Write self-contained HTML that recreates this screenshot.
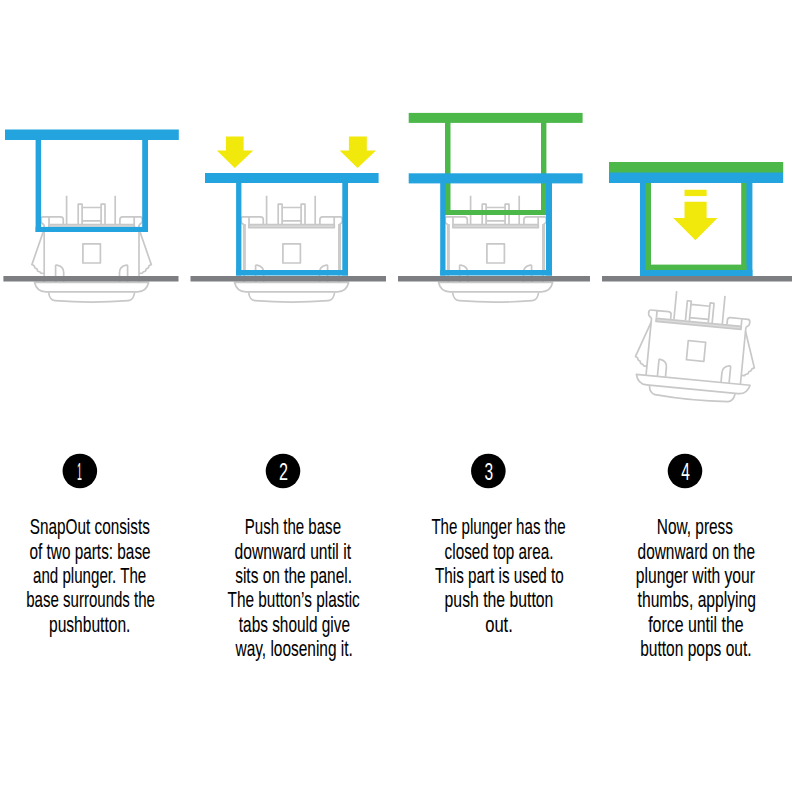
<!DOCTYPE html>
<html><head><meta charset="utf-8">
<style>
html,body{margin:0;padding:0;background:#fff;width:800px;height:800px;overflow:hidden}
svg{position:absolute;left:0;top:0;display:block}
text{font-family:"Liberation Sans",sans-serif}
</style></head>
<body>
<svg width="800" height="800" viewBox="0 0 800 800">
<defs>
<g id="core" fill="none" stroke="#c8c8c8" stroke-width="1.7" stroke-linejoin="round">
  <path d="M66.6,195.7V224M115.2,195.7V224"/>
  <path d="M78.2,224V204.2H82.1V224M82.1,207.5H101.1M82.1,220.8H101.1M101.1,224V204.2H105V224"/>
  <path d="M49,224V216.9H60.5Q63.3,216.9 63.3,219.7V224"/>
  <path d="M49,216.9H43Q40.9,216.9 40.9,219V221Q40.9,222.5 42.3,223.5L44.2,225"/>
  <path d="M134.2,224V216.9H122.7Q119.9,216.9 119.9,219.7V224"/>
  <path d="M134.2,216.9H140.2Q142.3,216.9 142.3,219V221Q142.3,222.5 140.9,223.5L139,225"/>
  <rect x="48.9" y="224.6" width="85.4" height="3.1" fill="#dcdcdc"/>
  <path d="M44.2,225V282M139,225V282"/>
  <rect x="82.9" y="243.8" width="17.5" height="19.2"/>
  <path d="M55.6,282V266Q55.6,264.9 56.9,265.1C61,265.8 63.7,268.5 63.7,272.5V282"/>
  <path d="M127.6,282V266Q127.6,264.9 126.3,265.1C122.2,265.8 119.5,268.5 119.5,272.5V282"/>
  <path d="M34.5,282.3H148.7C147.5,287.5 144.5,291.8 137.5,291.8H45.7C38.7,291.8 35.7,287.5 34.5,282.3Z"/>
  <path d="M48.6,292.5C49.3,297.5 50.8,300.3 55,300.7Q91.6,303.6 128.2,300.7C132.4,300.3 133.9,297.5 134.6,292.5"/>
</g>
<g id="wopen" fill="none" stroke="#c8c8c8" stroke-width="1.7" stroke-linejoin="round">
  <path d="M44.2,229L31.9,264.6L34.2,265.8L34.8,267.8L37,269L37.6,271L40,272L41,273.2L44.2,273.4"/>
  <path d="M139,229L151.3,264.6L149,265.8L148.4,267.8L146.2,269L145.6,271L143.2,272L142.2,273.2L139,273.4"/>
</g>
<g id="wfold" fill="none" stroke="#cbcbcb" stroke-width="3">
  <path d="M44.4,224V270M139.5,224V270"/>
</g>
</defs>

<!-- buttons -->
<use href="#core"/><use href="#wopen"/>
<g transform="translate(200,0)"><use href="#core"/><use href="#wfold"/></g>
<g transform="translate(404,0)"><use href="#core"/><use href="#wfold"/></g>
<g transform="translate(696,351) rotate(5.5) translate(-91.6,-253.4)"><use href="#core"/><use href="#wopen"/></g>

<!-- panel 1 blue -->
<g fill="#23a4de">
  <rect x="5" y="129.5" width="173.8" height="10.5"/>
  <rect x="35.6" y="139" width="5.5" height="93"/>
  <rect x="142.2" y="139" width="5.8" height="93"/>
  <rect x="35.6" y="226.9" width="112.4" height="5.1"/>
</g>
<!-- panel 2 -->
<g fill="#23a4de">
  <rect x="205" y="173" width="173.6" height="10"/>
  <rect x="236.1" y="182" width="5.3" height="93.5"/>
  <rect x="342.3" y="182" width="5.7" height="93.5"/>
  <rect x="236.1" y="270" width="111.9" height="5.5"/>
</g>
<g fill="#f1e80c">
  <path d="M226,136.6H243.6V150.6H253.2L234.8,168L216.9,150.6H226Z"/>
  <path d="M348.9,136.6H366.8V150.6H376L357.6,168L339.7,150.6H348.9Z"/>
</g>
<!-- panel 3 -->
<g fill="#4cb84a">
  <rect x="408.7" y="112.9" width="173.9" height="10"/>
  <rect x="445" y="122" width="5.5" height="93"/>
  <rect x="541" y="122" width="5.4" height="93"/>
  <rect x="445" y="210" width="101.4" height="5"/>
</g>
<g fill="#23a4de">
  <rect x="408.7" y="173.3" width="173.9" height="10.1"/>
  <rect x="440.2" y="183" width="5.3" height="92.5"/>
  <rect x="546" y="183" width="6" height="92.5"/>
  <rect x="440.2" y="270" width="111.8" height="5.5"/>
</g>
<!-- panel 4 -->
<g fill="#23a4de">
  <rect x="609" y="172" width="174.2" height="11"/>
  <rect x="640" y="182" width="6" height="94"/>
  <rect x="746" y="182" width="6.4" height="94"/>
  <rect x="640" y="269.8" width="112.4" height="6.2"/>
</g>
<g fill="#4cb84a">
  <rect x="609" y="162" width="174.2" height="10.5"/>
  <rect x="645.7" y="183" width="5.3" height="87"/>
  <rect x="741.2" y="183" width="5.2" height="87"/>
  <rect x="645.7" y="264.6" width="100.7" height="5.4"/>
</g>
<g fill="#f1e80c">
  <rect x="684.5" y="189.75" width="22.1" height="6.35"/>
  <path d="M684.5,201.75H706.6V217.9H717.5L695.4,240.3L673.25,217.9H684.5Z"/>
</g>

<!-- ground -->
<g fill="#7d7e82">
  <rect x="3.4" y="276" width="175.1" height="5.5"/>
  <rect x="190.5" y="276" width="195.5" height="5.5"/>
  <rect x="398" y="276" width="192" height="5.5"/>
  <rect x="602" y="276" width="190" height="5.5"/>
</g>

<!-- circles -->
<g fill="#000">
  <circle cx="79.85" cy="471" r="17.3"/>
  <circle cx="283" cy="471" r="17.3"/>
  <circle cx="488.35" cy="471" r="17.3"/>
  <circle cx="685" cy="471" r="17.3"/>
</g>
<g fill="#fff" font-size="24">
  <text x="77" y="479.75" textLength="4.9" lengthAdjust="spacingAndGlyphs">1</text>
  <text x="279" y="479.75" textLength="9" lengthAdjust="spacingAndGlyphs">2</text>
  <text x="484.6" y="479.75" textLength="8.65" lengthAdjust="spacingAndGlyphs">3</text>
  <text x="681.25" y="479.75" textLength="8.65" lengthAdjust="spacingAndGlyphs">4</text>
</g>

<!-- text -->
<g fill="#000" font-size="22.5" stroke="#000" stroke-width="0.1">
  <text x="29.80" y="534.2" textLength="120.00" lengthAdjust="spacingAndGlyphs">SnapOut consists</text>
  <text x="29.50" y="558.6" textLength="121.10" lengthAdjust="spacingAndGlyphs">of two parts: base</text>
  <text x="33.00" y="583" textLength="113.20" lengthAdjust="spacingAndGlyphs">and plunger. The</text>
  <text x="26.20" y="607.4" textLength="128.80" lengthAdjust="spacingAndGlyphs">base surrounds the</text>
  <text x="49.00" y="631.8" textLength="81.40" lengthAdjust="spacingAndGlyphs">pushbutton.</text>

  <text x="244.80" y="534.2" textLength="96.20" lengthAdjust="spacingAndGlyphs">Push the base</text>
  <text x="234.50" y="558.6" textLength="116.50" lengthAdjust="spacingAndGlyphs">downward until it</text>
  <text x="235.20" y="583" textLength="116.80" lengthAdjust="spacingAndGlyphs">sits on the panel.</text>
  <text x="227.50" y="607.4" textLength="132.30" lengthAdjust="spacingAndGlyphs">The button’s plastic</text>
  <text x="238.80" y="631.8" textLength="111.20" lengthAdjust="spacingAndGlyphs">tabs should give</text>
  <text x="235.50" y="656.2" textLength="117.30" lengthAdjust="spacingAndGlyphs">way, loosening it.</text>

  <text x="431.40" y="534.2" textLength="134.20" lengthAdjust="spacingAndGlyphs">The plunger has the</text>
  <text x="444.60" y="558.6" textLength="108.80" lengthAdjust="spacingAndGlyphs">closed top area.</text>
  <text x="435.00" y="583" textLength="128.80" lengthAdjust="spacingAndGlyphs">This part is used to</text>
  <text x="444.60" y="607.4" textLength="108.80" lengthAdjust="spacingAndGlyphs">push the button</text>
  <text x="485.20" y="631.8" textLength="27.60" lengthAdjust="spacingAndGlyphs">out.</text>

  <text x="656.80" y="534.2" textLength="76.20" lengthAdjust="spacingAndGlyphs">Now, press</text>
  <text x="637.60" y="558.6" textLength="117.40" lengthAdjust="spacingAndGlyphs">downward on the</text>
  <text x="635.80" y="583" textLength="119.20" lengthAdjust="spacingAndGlyphs">plunger with your</text>
  <text x="637.60" y="607.4" textLength="118.40" lengthAdjust="spacingAndGlyphs">thumbs, applying</text>
  <text x="648.20" y="631.8" textLength="95.40" lengthAdjust="spacingAndGlyphs">force until the</text>
  <text x="640.20" y="656.2" textLength="111.40" lengthAdjust="spacingAndGlyphs">button pops out.</text>
</g>
</svg>
</body></html>
